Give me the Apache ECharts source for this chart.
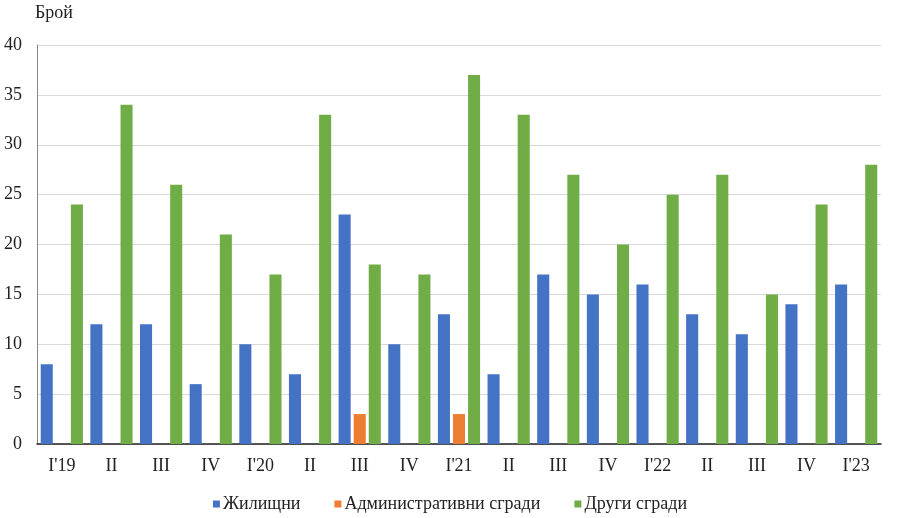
<!DOCTYPE html>
<html><head><meta charset="utf-8">
<script src="https://cdn.jsdelivr.net/npm/echarts@6/dist/echarts.min.js"></script>
<style>html,body{margin:0;padding:0;background:#fff}#c{width:900px;height:518px}</style>
</head><body><div id="c"></div>
<script>
const categories = ["I'19","II","III","IV","I'20","II","III","IV","I'21","II","III","IV","I'22","II","III","IV","I'23"];
const housing = [8,12,12,6,10,7,23,10,13,7,17,15,16,13,11,14,16];
const admin = [0,0,0,0,0,0,3,0,3,0,0,0,0,0,0,0,0];
const other = [24,34,26,21,17,33,18,17,37,33,27,20,25,27,15,24,28];
const yTicks = {min:0,max:40,interval:5};
const font = "'Liberation Serif', 'Times New Roman', serif";
const chart = echarts.init(document.getElementById('c'));
chart.setOption({
  animation:false,
  textStyle:{fontFamily:font},
  grid:{left:37,right:19,top:45,bottom:74},
  title:{text:'Брой',left:30,top:-1,textStyle:{fontFamily:font,fontSize:18,fontWeight:'normal',color:'#222'}},
  legend:{top:490,left:'center',itemWidth:7,itemHeight:7,itemGap:34,icon:'rect',
    textStyle:{fontFamily:font,fontSize:18,color:'#222',padding:[0,0,0,-2]}},
  xAxis:{type:'category',data:categories,
    axisLine:{lineStyle:{color:'#222',width:1.5}},axisTick:{show:false},
    axisLabel:{fontFamily:font,fontSize:18,color:'#222',margin:13,interval:0}},
  yAxis:{type:'value',min:yTicks.min,max:yTicks.max,interval:yTicks.interval,
    axisLine:{show:true,lineStyle:{color:'#888'}},
    splitLine:{lineStyle:{color:'#d9d9d9'}},
    axisLabel:{fontFamily:font,fontSize:18,color:'#222',margin:15}},
  series:[
    {name:'Жилищни',type:'bar',data:housing,itemStyle:{color:'#4472C4'},barGap:'25%',barCategoryGap:'15%'},
    {name:'Административни сгради',type:'bar',data:admin,itemStyle:{color:'#ED7D31'}},
    {name:'Други сгради',type:'bar',data:other,itemStyle:{color:'#70AD47'}}
  ]
});
</script></body></html>
